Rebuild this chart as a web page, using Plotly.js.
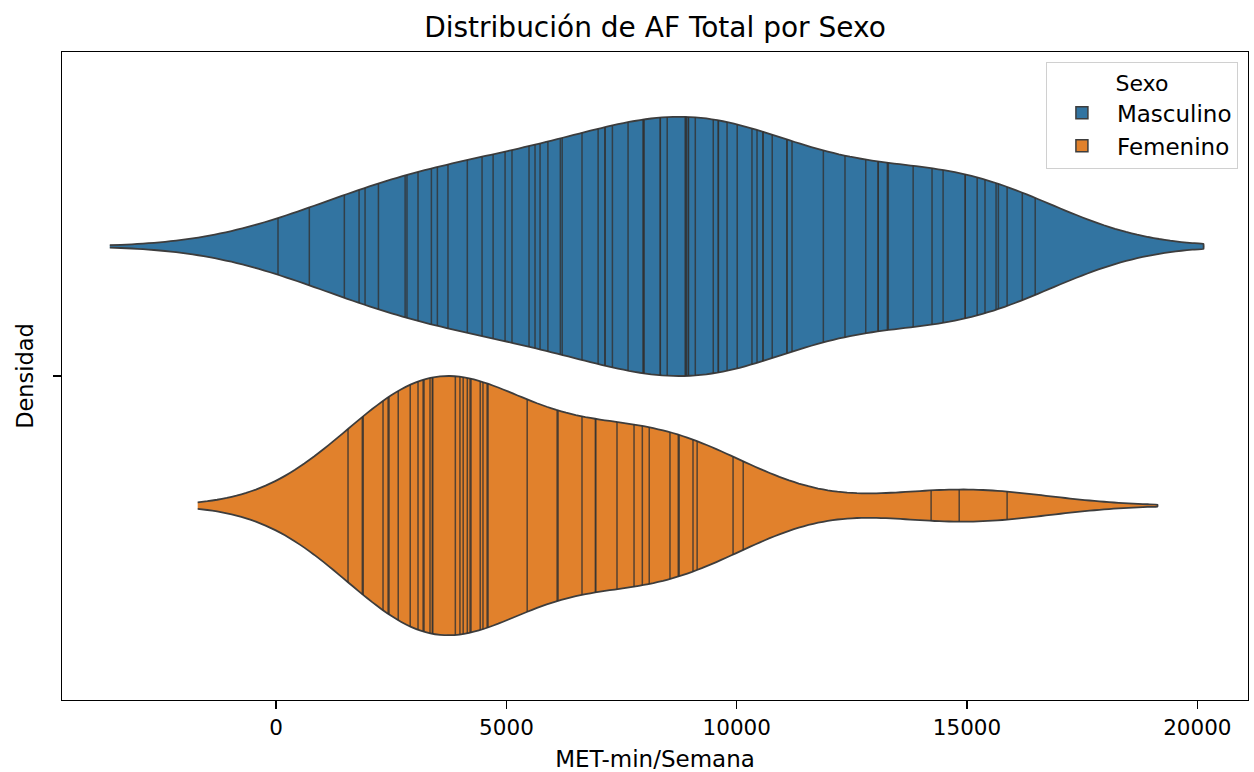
<!DOCTYPE html>
<html>
<head>
<meta charset="utf-8">
<script src="https://cdn.plot.ly/plotly-3.0.1.min.js"></script>
<style>html,body{margin:0;padding:0;background:#fff;}#chart{width:1254px;height:772px;}</style>
</head>
<body>
<div id="chart"></div>
<script>
// ---- Data (MET-min/Semana per participant) ----
const categories = ['Masculino', 'Femenino'];
const masculino = [40, 720, 1480, 1800, 1930, 2220, 2800, 2840, 3080, 3370, 3500, 3730, 4150, 4470, 4710,
  4970, 5120, 5490, 5620, 5730, 5900, 6170, 6210, 6640, 6990, 7140, 7140, 7300, 7640, 7970, 7970, 7990,
  8340, 8340, 8490, 8880, 8900, 8900, 8950, 8950, 9100, 9490, 9600, 9600, 9790, 10010, 10330, 10440,
  10570, 10570, 10770, 11090, 11090, 11200, 11880, 12350, 12800, 13070, 13070, 13270, 13290, 13830,
  14240, 14480, 14960, 14960, 15220, 15390, 15630, 15680, 15870, 16200, 16480];
const femenino = [1560, 1870, 1890, 2320, 2430, 2450, 2650, 2910, 3080, 3190, 3210, 3340, 3390, 3400,
  3890, 3990, 4060, 4150, 4210, 4230, 4430, 4490, 4580, 4600, 5450, 6100, 6120, 6640, 6930, 6940, 7400,
  7770, 7950, 8100, 8550, 8730, 8750, 9050, 9140, 9920, 10140, 14220, 14830, 15870];
const xTickVals = [0, 5000, 10000, 15000, 20000];
const xTickText = ['0', '5000', '10000', '15000', '20000'];

// ---- Styling ----
const colors = ['#3274a1', '#e1812c'];
const centers = [0.2, -0.2];
const halfWidth = 0.2;
const edgeColor = '#3d3d3d';

function kde(data) {
  const n = data.length;
  const mean = data.reduce((a, b) => a + b, 0) / n;
  const sd = Math.sqrt(data.reduce((a, b) => a + (b - mean) * (b - mean), 0) / (n - 1));
  const bw = sd * Math.pow(n, -0.2);
  const dens = x => {
    let s = 0;
    for (const v of data) { const z = (x - v) / bw; s += Math.exp(-0.5 * z * z); }
    return s / (n * bw * Math.sqrt(2 * Math.PI));
  };
  const lo = Math.min(...data) - 2 * bw, hi = Math.max(...data) + 2 * bw;
  const grid = [];
  for (let i = 0; i < 100; i++) grid.push(lo + (hi - lo) * i / 99);
  const d = grid.map(dens);
  return { grid, d, dens, max: Math.max(...d) };
}

const series = [masculino, femenino];
const traces = [];
series.forEach((data, k) => {
  const K = kde(data);
  const c = centers[k];
  const up = K.d.map(v => c + v / K.max * halfWidth);
  const dn = K.d.map(v => c - v / K.max * halfWidth);
  traces.push({
    type: 'scatter', mode: 'lines', name: categories[k],
    x: K.grid.concat(K.grid.slice().reverse()),
    y: up.concat(dn.slice().reverse()),
    fill: 'toself', fillcolor: colors[k],
    line: { color: edgeColor, width: 1.8, shape: 'spline', smoothing: 0.3 },
    hoverinfo: 'skip', showlegend: false
  });
  const sx = [], sy = [];
  data.forEach(v => {
    const w = K.dens(v) / K.max * halfWidth;
    sx.push(v, v, null); sy.push(c - w, c + w, null);
  });
  traces.push({
    type: 'scatter', mode: 'lines', x: sx, y: sy,
    line: { color: 'rgba(50,50,50,0.8)', width: 1.5 },
    hoverinfo: 'skip', showlegend: false
  });
});
// legend swatches (filled patches like the reference)
categories.forEach((name, k) => {
  traces.push({
    type: 'bar', name: name, x: [null], y: [null], orientation: 'h',
    marker: { color: colors[k], line: { color: edgeColor, width: 1.5 } },
    hoverinfo: 'skip', showlegend: true
  });
});

const font = 'DejaVu Sans, sans-serif';
const layout = {
  width: 1254, height: 772,
  margin: { l: 62, r: 6, t: 52, b: 72 },
  paper_bgcolor: '#ffffff', plot_bgcolor: '#ffffff',
  font: { family: font, color: '#000', size: 22 },
  title: { text: 'Distribución de AF Total por Sexo', font: { family: font, size: 28, color: '#000' },
    x: 0.5, xref: 'paper', y: 0.965, yref: 'container', yanchor: 'middle' },
  xaxis: {
    range: [-4650, 21100], tickvals: xTickVals, ticktext: xTickText,
    ticks: 'outside', ticklen: 8, tickwidth: 1.4, tickcolor: '#000',
    showline: true, mirror: true, linecolor: '#000', linewidth: 1.4,
    showgrid: false, zeroline: false, tickfont: { size: 21.5 },
    title: { text: 'MET-min/Semana', font: { size: 23 }, standoff: 14 }
  },
  yaxis: {
    range: [-0.5, 0.5], tickvals: [0], ticktext: [''],
    ticks: 'outside', ticklen: 8, tickwidth: 1.4, tickcolor: '#000',
    showline: true, mirror: true, linecolor: '#000', linewidth: 1.4,
    showgrid: false, zeroline: false,
    title: { text: 'Densidad', font: { size: 22.5 }, standoff: 8 }
  },
  legend: {
    x: 0.9915, y: 0.985, xanchor: 'right', yanchor: 'top',
    bgcolor: 'rgba(255,255,255,0.9)', bordercolor: '#d0d0d0', borderwidth: 1,
    font: { size: 23 }, itemwidth: 60,
    title: { text: 'Sexo', side: 'top center', font: { size: 22 } },
    traceorder: 'normal'
  },
  showlegend: true
};

Plotly.newPlot('chart', traces, layout, { displayModeBar: false, staticPlot: true });
</script>
</body>
</html>
